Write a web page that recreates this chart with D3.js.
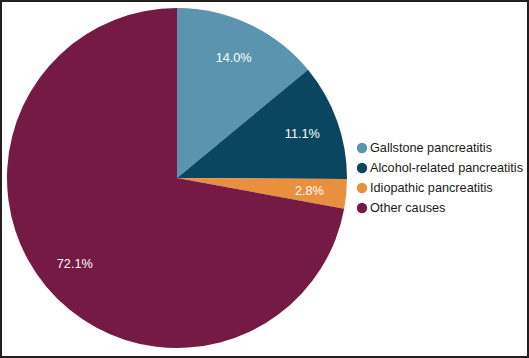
<!DOCTYPE html>
<html><head><meta charset="utf-8">
<script src="https://cdn.jsdelivr.net/npm/d3@7"></script>
<style>html,body{margin:0;padding:0;background:#fff;}</style>
</head><body>
<svg id="c" width="529" height="358"></svg>
<script>
const categories = ["Gallstone pancreatitis","Alcohol-related pancreatitis","Idiopathic pancreatitis","Other causes"];
const values = [14.0, 11.1, 2.8, 72.1];
const colors = ["#5A94AF","#0B4660","#E8903E","#751945"];

const svg = d3.select("#c");
svg.append("rect").attr("x",1).attr("y",1).attr("width",527).attr("height",356)
  .attr("fill","#fff").attr("stroke","#231f20").attr("stroke-width",2);

const cx = 177, cy = 178, R = 170;
const data = categories.map((c,i)=>({cat:c, v:values[i], col:colors[i]}));
const pie = d3.pie().value(d=>d.v).sort(null);
const arc = d3.arc().innerRadius(0).outerRadius(R);
const labelArc = d3.arc().innerRadius(133).outerRadius(133);
const g = svg.append("g").attr("transform",`translate(${cx},${cy})`);
const arcs = pie(data);
g.selectAll("path").data(arcs).join("path").attr("d",arc).attr("fill",d=>d.data.col);
g.selectAll("text").data(arcs).join("text")
  .attr("transform",d=>`translate(${labelArc.centroid(d)})`)
  .attr("text-anchor","middle").attr("dy","0.35em")
  .attr("fill","#fff").style("font-family","'Liberation Sans', Arial, sans-serif").style("font-size","12.7px")
  .text(d=>d.data.v.toFixed(1)+"%");

const lg = svg.append("g").attr("transform","translate(362,148)");
const item = lg.selectAll("g").data(data).join("g").attr("transform",(d,i)=>`translate(0,${i*20})`);
item.append("circle").attr("r",5.2).attr("fill",d=>d.col);
item.append("text").attr("x",8).attr("dy","0.35em").attr("fill","#1a1a1a")
  .style("font-family","'Liberation Sans', Arial, sans-serif").style("font-size","12.7px")
  .text(d=>d.cat);
</script>
</body></html>
